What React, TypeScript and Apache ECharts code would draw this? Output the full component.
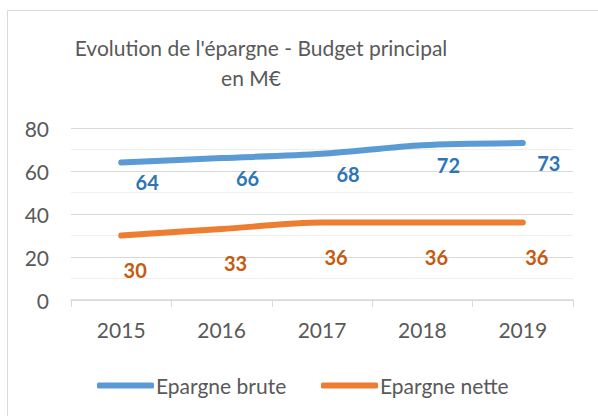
import React, { useEffect, useRef } from "react";
import * as echarts from "echarts";

const years = ["2015", "2016", "2017", "2018", "2019"];
const brute = [64, 66, 68, 72, 73];
const nette = [30, 33, 36, 36, 36];
const titleLines = ["Evolution de l'épargne - Budget principal", "en M€"];
const seriesNames = ["Epargne brute", "Epargne nette"];
const lineColors = ["#5B9BD5", "#ED7D31"];
const labelColors = ["#2E75B6", "#C55A11"];

export default function App() {
  const ref = useRef<HTMLDivElement>(null);
  useEffect(() => {
    document.body.style.margin = "0";
    const chart = echarts.init(ref.current!, null, { renderer: "svg" });
    const font = "Lato, 'Open Sans', sans-serif";
    const legendText = { fontFamily: font, fontSize: 21, color: "#595959", padding: [0, 0, 0, -3] };
    const legendCommon = {
      top: 370,
      itemWidth: 57,
      itemHeight: 6,
      icon: "roundRect",
      textStyle: legendText,
    };
    const mkSeries = (i: number, data: number[], offset: number[]) => ({
      name: seriesNames[i],
      type: "line",
      data,
      smooth: 0.3,
      symbol: "circle",
      symbolSize: 1,
      showSymbol: true,
      itemStyle: { color: "rgba(0,0,0,0)" },
      lineStyle: { width: 6, color: lineColors[i], cap: "round" },
      label: {
        show: true,
        position: "inside",
        offset,
        fontFamily: font,
        fontSize: 20,
        fontWeight: "bold",
        color: labelColors[i],
      },
    });
    chart.setOption({
      animation: false,
      backgroundColor: "#ffffff",
      textStyle: { fontFamily: font },
      graphic: [
        {
          type: "rect",
          shape: { x: 7.5, y: 10.5, width: 700, height: 500 },
          style: { fill: "none", stroke: "#D9D9D9", lineWidth: 1 },
          silent: true,
        },
        {
          type: "text",
          x: 261,
          y: 47,
          style: {
            text: titleLines[0],
            fontFamily: font,
            fontSize: 21,
            fill: "#595959",
            textAlign: "center",
            textVerticalAlign: "middle",
          },
          silent: true,
        },
        {
          type: "text",
          x: 251,
          y: 77,
          style: {
            text: titleLines[1],
            fontFamily: font,
            fontSize: 21,
            fill: "#595959",
            textAlign: "center",
            textVerticalAlign: "middle",
          },
          silent: true,
        },
      ],
      legend: [
        {
          ...legendCommon,
          left: 92,
          data: [{ name: seriesNames[0], itemStyle: { color: lineColors[0] } }],
        },
        {
          ...legendCommon,
          left: 316,
          data: [{ name: seriesNames[1], itemStyle: { color: lineColors[1] } }],
        },
      ],
      grid: { left: 71, right: 25, top: 128, bottom: 116 },
      xAxis: {
        type: "category",
        data: years,
        boundaryGap: true,
        axisLine: { lineStyle: { color: "#D9D9D9", width: 1.5 } },
        axisTick: { show: true, length: 7, lineStyle: { color: "#D9D9D9" } },
        axisLabel: { fontFamily: font, fontSize: 21, color: "#595959", margin: 19 },
      },
      yAxis: {
        type: "value",
        min: 0,
        max: 80,
        interval: 20,
        axisLine: { show: false },
        axisTick: { show: false },
        axisLabel: { fontFamily: font, fontSize: 21, color: "#595959", margin: 22 },
        splitLine: { lineStyle: { color: "#D9D9D9", width: 1.2 } },
        minorTick: { show: false, splitNumber: 2 },
        minorSplitLine: { show: true, lineStyle: { color: "#EFEFEF", width: 1.2 } },
      },
      series: [mkSeries(0, brute, [26, 20]), mkSeries(1, nette, [14, 34])],
    });
    return () => chart.dispose();
  }, []);
  return <div ref={ref} style={{ width: 598, height: 416 }} />;
}
